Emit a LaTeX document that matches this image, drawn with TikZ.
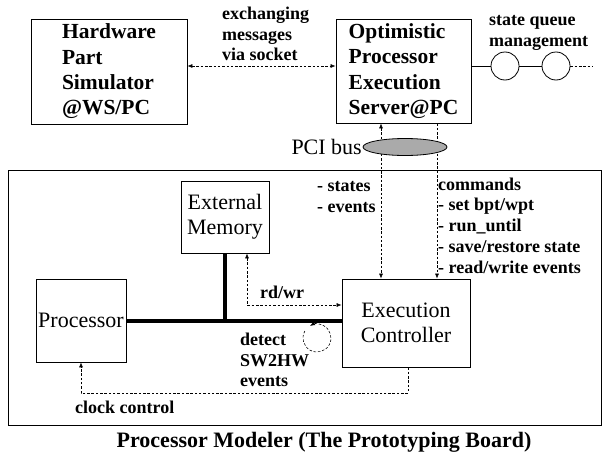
\documentclass[tikz,border=0pt]{standalone}
\usepackage{fontspec}
\setmainfont{Liberation Serif}
\usetikzlibrary{arrows.meta,calc,shapes.geometric}
\definecolor{busgray}{RGB}{170,170,170}
\begin{document}
\begin{tikzpicture}[x=1pt,y=-1pt,
  >={Latex[length=5pt,width=4pt]},
  box/.style={draw, line width=0.8pt, inner sep=0pt},
  bigbold/.style={font=\bfseries\fontsize{21.5}{25.3}\selectfont, align=left},
  bigreg/.style={font=\fontsize{22}{25}\selectfont, align=center},
  lbl/.style={font=\bfseries\fontsize{18}{20.7}\selectfont, align=left, inner sep=0pt, anchor=west},
  dline/.style={line width=0.6pt, dash pattern=on 2.5pt off 1.8pt},
  solidline/.style={line width=0.8pt},
  busline/.style={line width=4pt}]
\useasboundingbox (0,0) rectangle (602,455);

% boxes
\node[box, bigbold, minimum width=156pt, minimum height=105pt] (hw) at (109,71.5) {Hardware\\Part\\Simulator\\@WS/PC};
\node[box, bigbold, minimum width=135pt, minimum height=104pt] (opes) at (403.5,71) {Optimistic\\Processor\\Execution\\Server@PC};
\node[box, minimum width=593pt, minimum height=255pt] (board) at (304.5,297.5) {};
\node[box, bigreg, minimum width=88pt, minimum height=72pt] (mem) at (225,217) {External\\Memory};
\node[box, bigreg, minimum width=90pt, minimum height=83pt] (proc) at (81,320.5) {Processor};
\node[box, bigreg, minimum width=128pt, minimum height=88pt] (ec) at (406,323) {Execution\\Controller};

% state queue
\node[circle, draw, solidline, minimum size=28pt, inner sep=0pt] (q1) at (505,66) {};
\node[circle, draw, solidline, minimum size=28pt, inner sep=0pt] (q2) at (556,66) {};
\coordinate (qend) at (592,66);
\draw[solidline] ([yshift=5pt]opes.east) -- (q1.west);
\draw[solidline] (q1.east) -- (q2.west);
\draw[dline] (q2.east) -- (qend);

% socket link
\draw[dline,<->] ([yshift=5.5pt]hw.east) -- ([yshift=5pt]opes.west);

% PCI links
\coordinate (pa) at (381,0);
\coordinate (pb) at (437,0);
\draw[dline,<->] (opes.south -| pa) -- (ec.north -| pa);
\draw[dline,->] (opes.south -| pb) -- (ec.north -| pb);
\node[draw, ellipse, fill=busgray, solidline, minimum width=84pt, minimum height=17pt, inner sep=0pt] (pci) at (405,147) {};

% bus
\draw[busline] (proc.east) -- (proc.east -| ec.west);
\draw[busline] (mem.south) -- (mem.south |- proc.east);

% rd/wr
\draw[dline,<->] ([xshift=22pt]mem.south) |- ([yshift=18pt]ec.west);

% clock control
\coordinate (clky) at (0,393);
\draw[dline,->] ([xshift=2pt]ec.south) |- (clky -| proc.south) -- (proc.south);

% detect loop
\coordinate (lc) at (317,338);
\draw[dline,->] ([shift={(150:14pt)}]lc) arc[start angle=150, end angle=480, radius=14pt];

% labels
\node[lbl] (xmsg) at (222,34) {exchanging\\messages\\via socket};
\node[lbl] (sqm) at (489,33) {state queue\\management};
\node[lbl] (se) at (317,197) {- states\\- events};
\node[lbl] (cmd) at (438,225.5) {commands\\- set bpt/wpt\\- run\_until\\- save/restore state\\- read/write events};
\node[lbl] (rdwr) at (260,292) {rd/wr};
\node[lbl] (det) at (240,360) {detect\\SW2HW\\events};
\node[lbl] (clk) at (75,407) {clock control};
\node[font=\fontsize{22}{25}\selectfont, anchor=east, inner sep=0pt] (pcil) at (362,147) {PCI bus};
\node[font=\bfseries\fontsize{22}{25}\selectfont, inner sep=0pt] (title) at (324,442) {Processor Modeler (The Prototyping Board)};
\end{tikzpicture}
\end{document}
